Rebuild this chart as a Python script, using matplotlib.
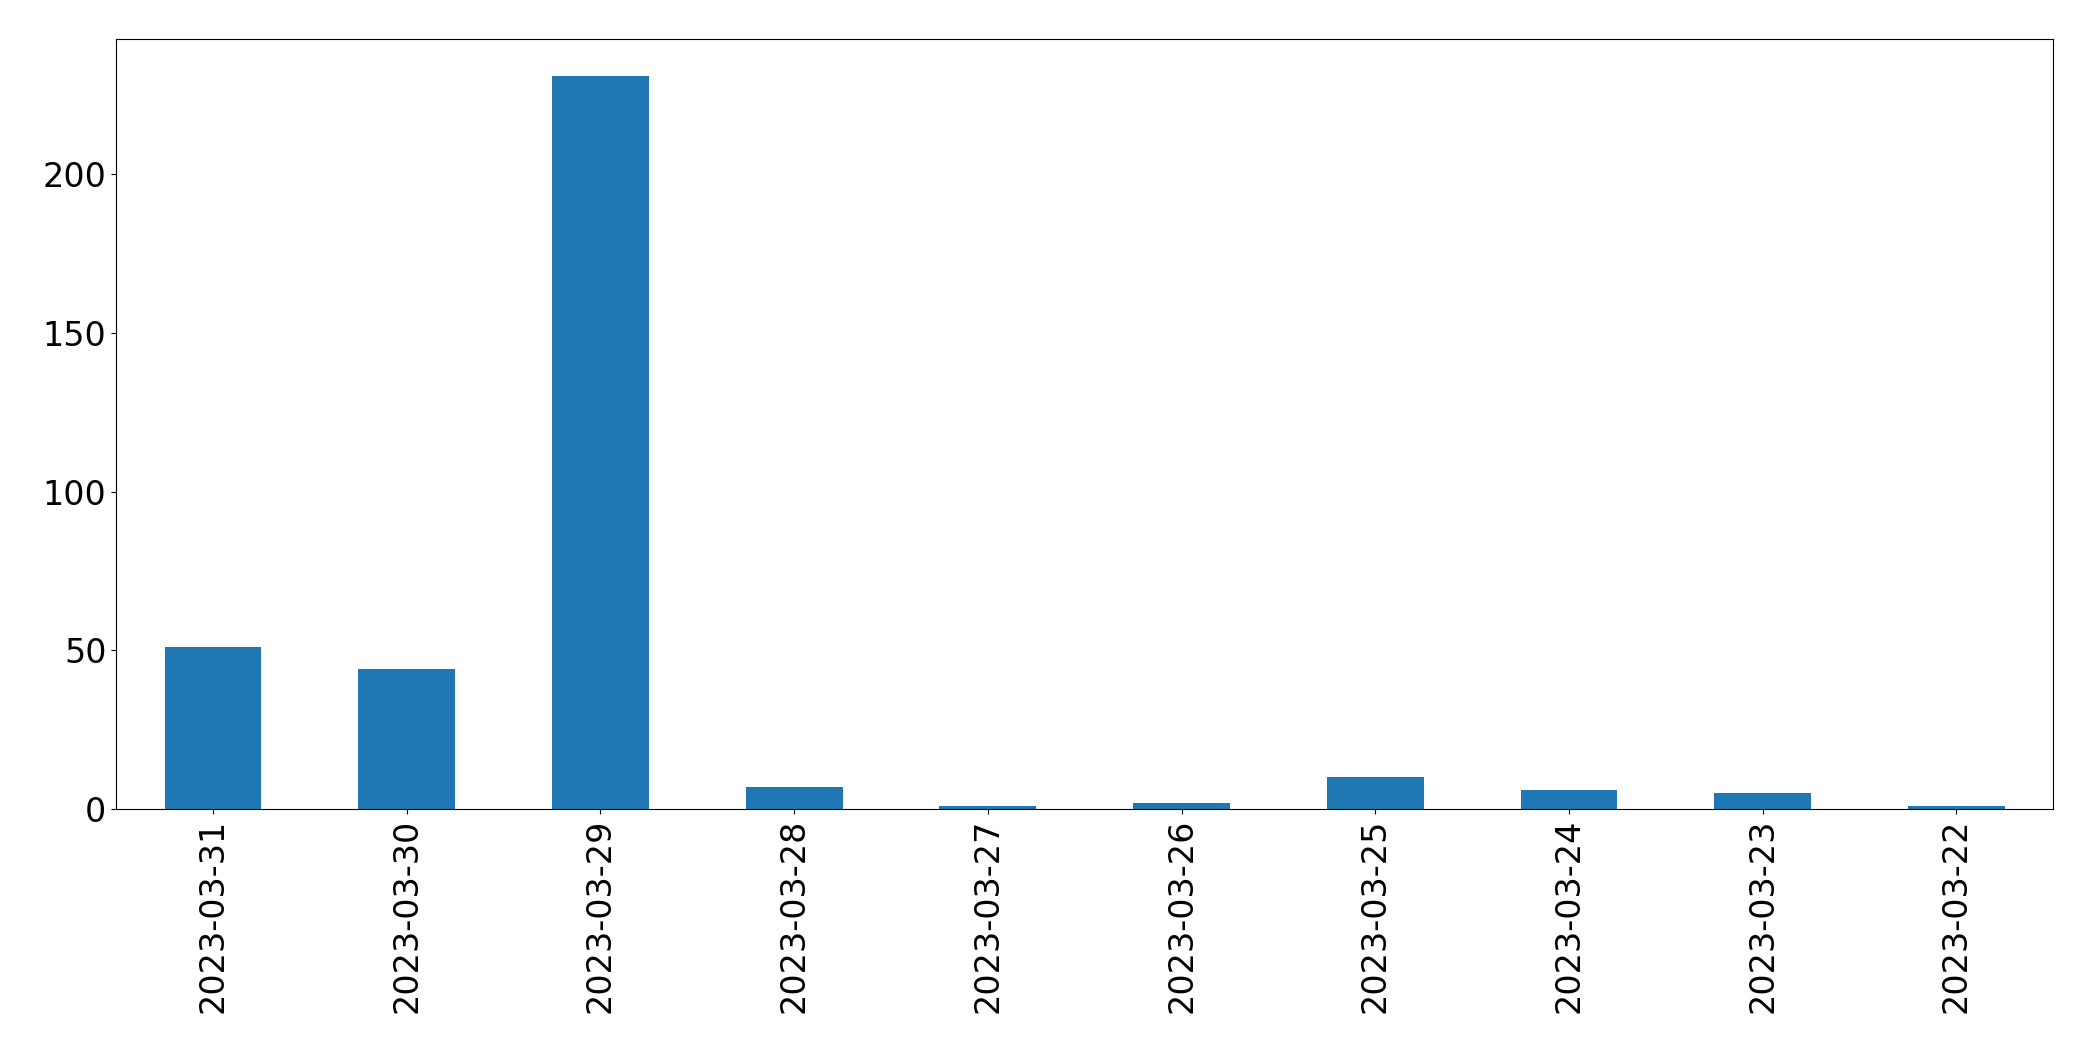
import matplotlib
matplotlib.use("Agg")
import matplotlib.pyplot as plt

dates = ["2023-03-31", "2023-03-30", "2023-03-29", "2023-03-28", "2023-03-27",
         "2023-03-26", "2023-03-25", "2023-03-24", "2023-03-23", "2023-03-22"]
counts = [51, 44, 231, 7, 1, 2, 10, 6, 5, 1]

fig = plt.figure(figsize=(20.93, 10.61), dpi=100)
left, right, bottom, top = 0.0555, 0.981, 0.2375, 0.963
ax = fig.add_axes([left, bottom, right - left, top - bottom])
x = list(range(len(dates)))
ax.bar(x, counts, width=0.5, color="#1f77b4")
ax.set_xlim(-0.5, len(dates) - 0.5)
ax.set_xticks(x)
ax.set_xticklabels(dates, rotation=90)
ax.tick_params(labelsize=24)
fig.savefig("out.png", dpi=100)
